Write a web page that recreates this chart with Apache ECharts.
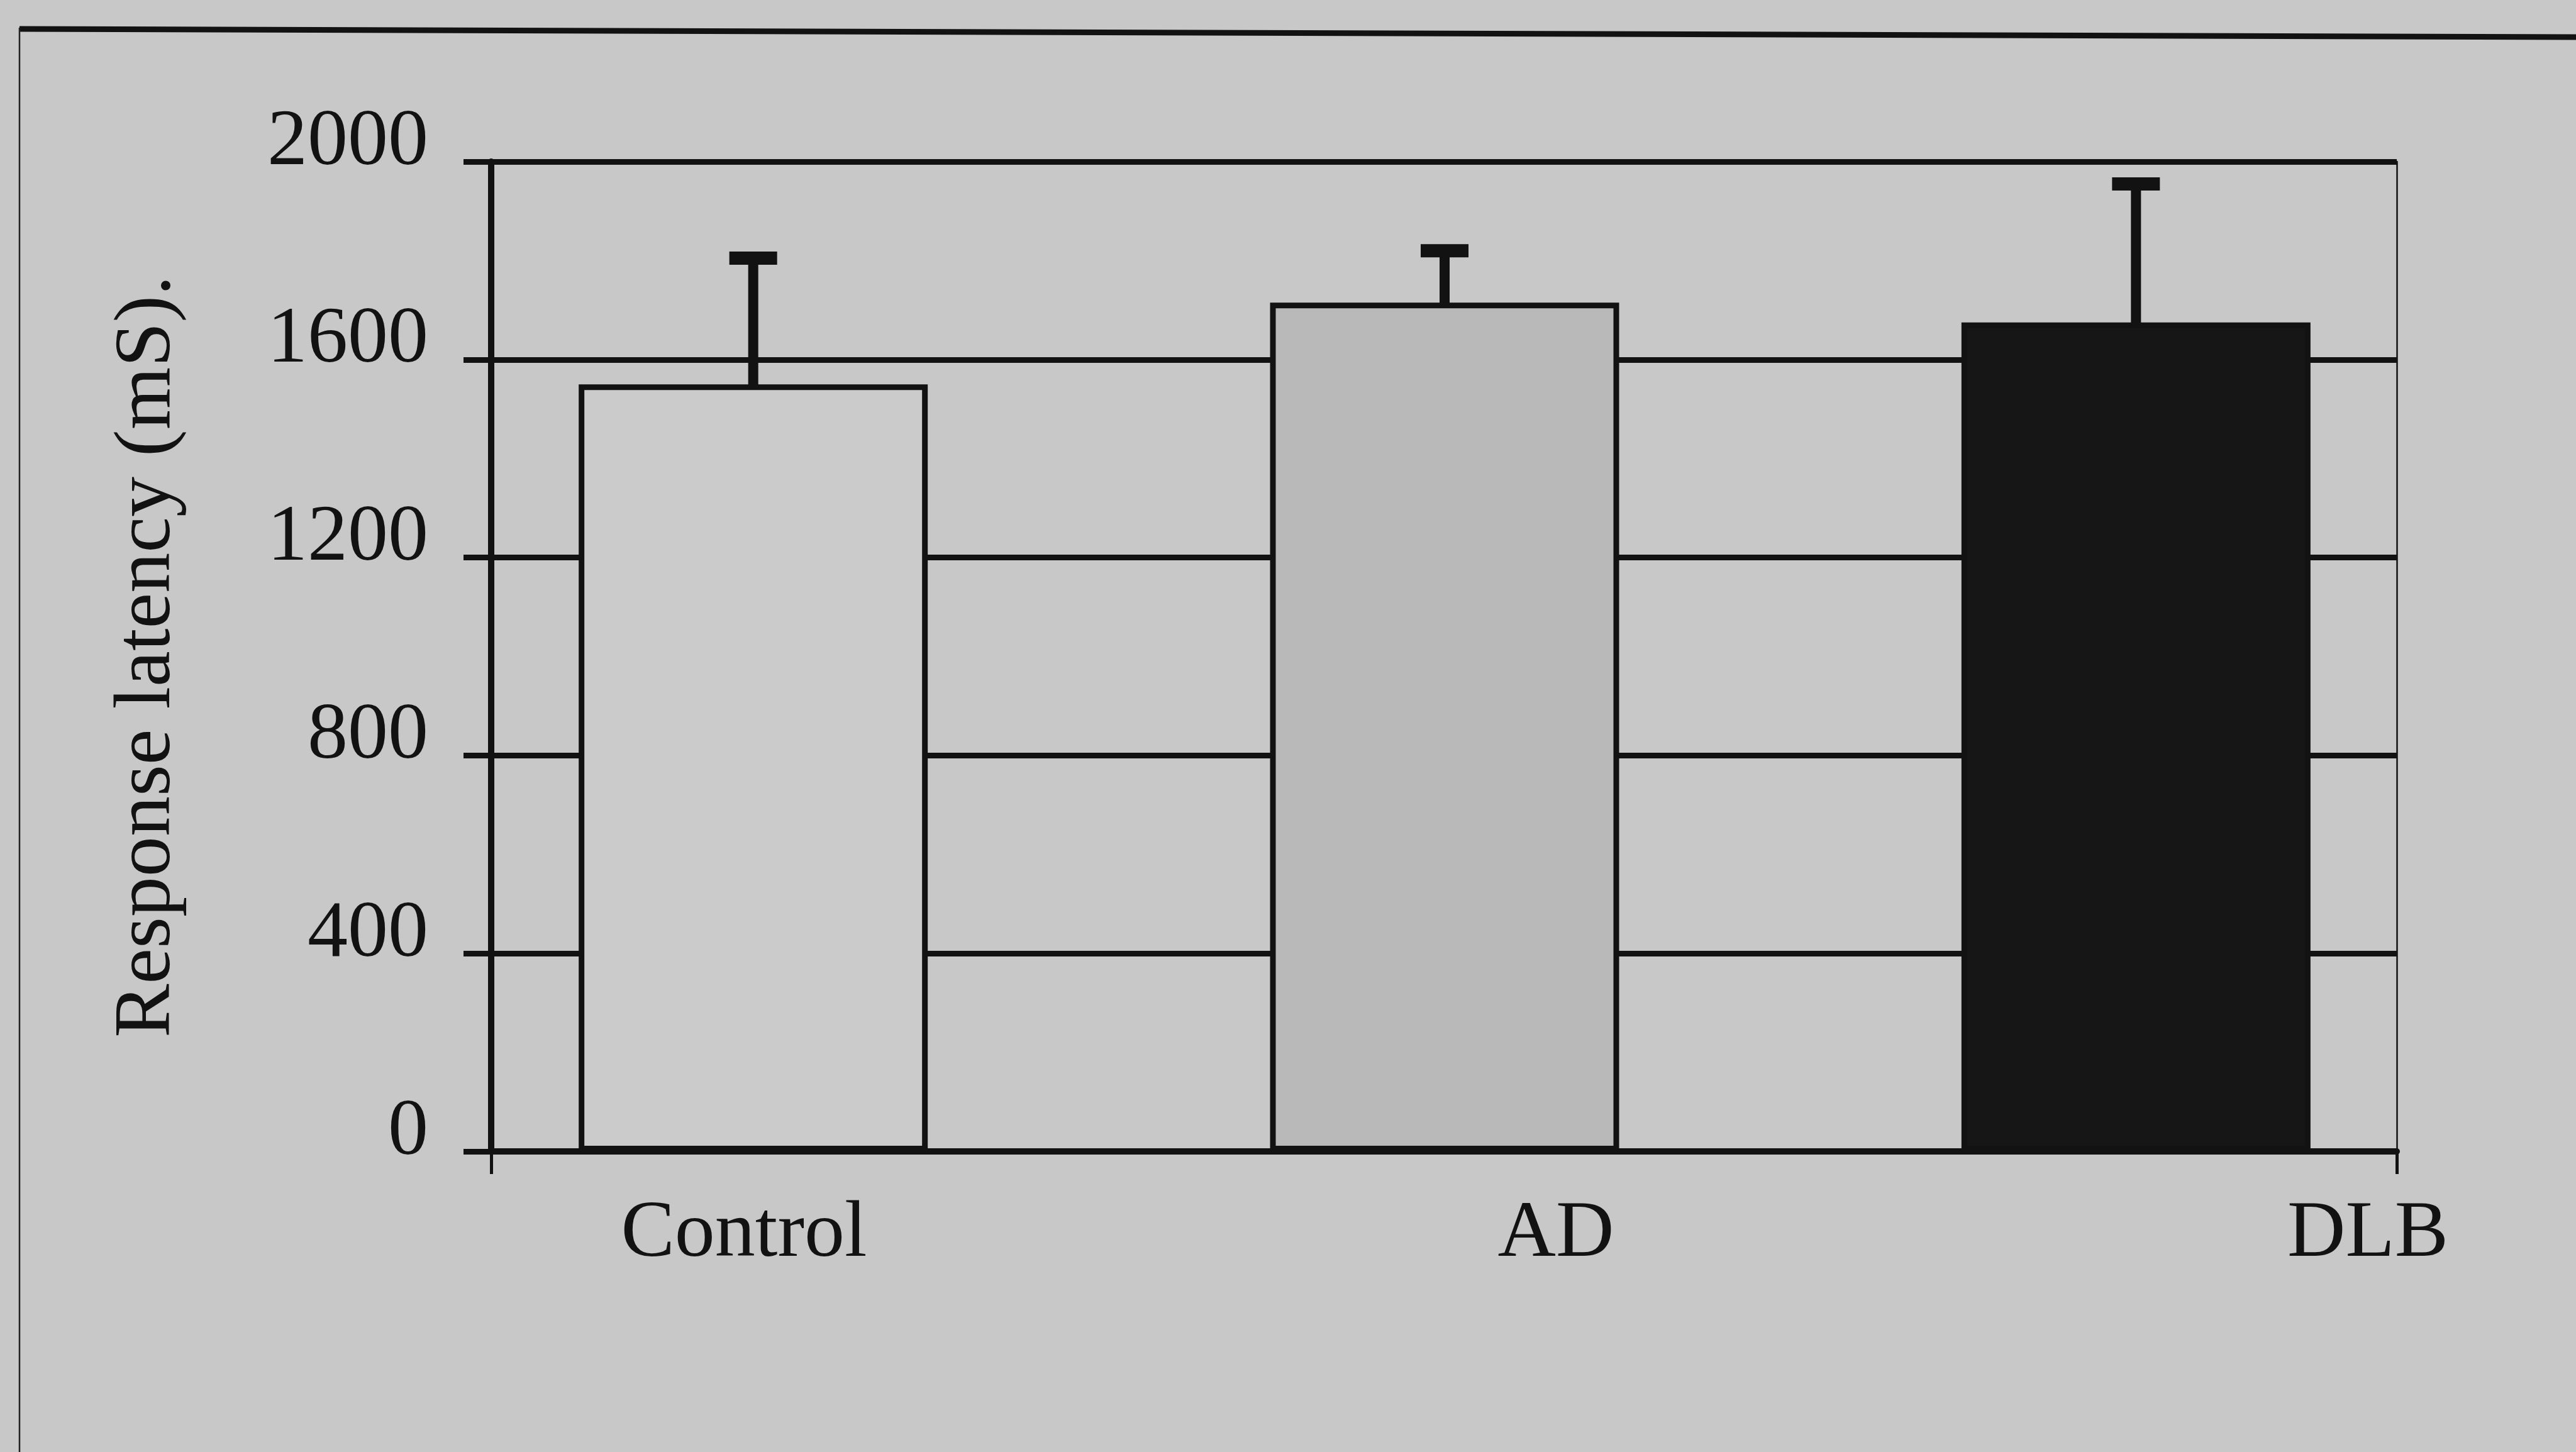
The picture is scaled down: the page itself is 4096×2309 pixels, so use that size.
<!DOCTYPE html>
<html><head><meta charset="utf-8">
<script src="https://cdn.jsdelivr.net/npm/echarts@6/dist/echarts.min.js"></script>
<style>html,body{margin:0;padding:0;background:#c8c8c8;}#c{width:4096px;height:2309px;}</style>
</head><body><div id="c"></div>
<script>
// ---- data ----
const categories = ['Control', 'AD', 'DLB'];
const means = [1550, 1715, 1675];
const errors = [255, 105, 280];
const yMin = 0, yMax = 2000, yStep = 400;
const yTitle = 'Response latency (mS).';

// ---- styles ----
const INK = '#121212';
const BG = '#c8c8c8';
const barFills = ['#cbcbcb', '#b9b9b9', '#161616'];
const FONT = 'Liberation Serif';
const FS = 128;
const GTOP = 257, GBOT = 478;

const chart = echarts.init(document.getElementById('c'), null, {renderer: 'canvas'});
chart.setOption({
  backgroundColor: BG,
  animation: false,
  grid: [
    {left: 648, right: 150, top: GTOP, bottom: GBOT},   // bars
    {left: 781, right: 285, top: GTOP, bottom: GBOT},   // visible axes / gridlines
    {left: 1183, right: 331, top: GTOP, bottom: GBOT}   // category labels
  ],
  xAxis: [
    {type: 'category', gridIndex: 0, data: categories, boundaryGap: true, show: false},
    {type: 'value', gridIndex: 1, min: 0, max: 1, interval: 1,
      axisLine: {show: true, lineStyle: {color: INK, width: 10}},
      axisTick: {show: true, length: 36, lineStyle: {color: INK, width: 5}},
      axisLabel: {show: false}, splitLine: {show: false}},
    {type: 'category', gridIndex: 2, data: categories, boundaryGap: false,
      axisLine: {show: false}, axisTick: {show: false}, splitLine: {show: false},
      axisLabel: {show: true, margin: 68, fontSize: FS, fontFamily: FONT, color: INK, interval: 0}}
  ],
  yAxis: [
    {type: 'value', gridIndex: 0, min: yMin, max: yMax, show: false},
    {type: 'value', gridIndex: 1, min: yMin, max: yMax, interval: yStep,
      name: yTitle, nameLocation: 'middle', nameGap: 482,
      nameTextStyle: {fontSize: FS, fontFamily: FONT, color: INK},
      axisLine: {show: true, lineStyle: {color: INK, width: 10}},
      axisTick: {show: true, inside: false, length: 44, lineStyle: {color: INK, width: 9}},
      axisLabel: {show: true, margin: 100, fontSize: FS, fontFamily: FONT, color: INK,
        verticalAlign: 'bottom', lineHeight: 60, formatter: v => String(v)},
      splitLine: {show: true, lineStyle: {color: INK, width: 9}}},
    {type: 'value', gridIndex: 1, min: yMin, max: yMax, position: 'right',
      axisLine: {show: true, lineStyle: {color: INK, width: 2.5}},
      axisTick: {show: false}, axisLabel: {show: false}, splitLine: {show: false}},
    {type: 'value', gridIndex: 2, min: yMin, max: yMax, show: false}
  ],
  series: [
    {type: 'bar', xAxisIndex: 0, yAxisIndex: 0, barWidth: 555, z: 3,
      data: means.map((v, i) => ({value: v, itemStyle: {color: barFills[i]}})),
      itemStyle: {borderColor: INK, borderWidth: 9}},
    {type: 'custom', xAxisIndex: 0, yAxisIndex: 0, z: 4,
      data: means.map((m, i) => [i, m, m + errors[i]]),
      renderItem: function (params, api) {
        const base = api.coord([api.value(0), api.value(1)]);
        const top = api.coord([api.value(0), api.value(2)]);
        return {type: 'group', children: [
          {type: 'rect', shape: {x: base[0] - 8, y: top[1], width: 16, height: base[1] - top[1] + 6}, style: {fill: INK}},
          {type: 'rect', shape: {x: top[0] - 38, y: top[1] - 10.5, width: 76, height: 21}, style: {fill: INK}}
        ]};
      }}
  ],
  graphic: [
    {type: 'line', shape: {x1: 31, y1: 46, x2: 4096, y2: 59}, style: {stroke: INK, lineWidth: 9}, z: 10},
    {type: 'line', shape: {x1: 31, y1: 44, x2: 31, y2: 2309}, style: {stroke: '#222', lineWidth: 2.5}, z: 10}
  ]
});
</script></body></html>
